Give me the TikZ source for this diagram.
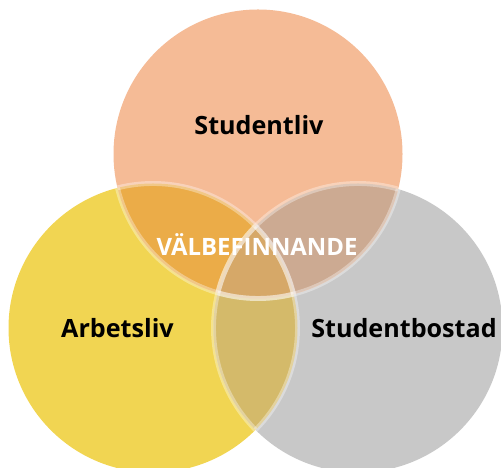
\documentclass[tikz,border=0pt]{standalone}
\usepackage{fontspec}
\setmainfont{Open Sans}
\usepackage{tikz}
\definecolor{salmonliv}{RGB}{245,187,150}
\definecolor{yellowliv}{RGB}{241,213,82}
\definecolor{grayliv}{RGB}{200,200,200}
\definecolor{lapTL}{RGB}{235,172,72}
\definecolor{lapTR}{RGB}{204,170,146}
\definecolor{lapLR}{RGB}{212,186,106}
\definecolor{lapmid}{RGB}{214,168,104}

\begin{document}
\begin{tikzpicture}[label/.style={font=\bfseries\fontsize{14.3}{16}\selectfont, text=black},
		rim/.style={white, opacity=0.35, line width=2.8pt}]
		\useasboundingbox (0,0) rectangle (10.02,9.36);
		\coordinate (top) at (5.16,6.28);
		\coordinate (left) at (3.06,2.80);
		\coordinate (right) at (7.16,2.80);
		\def\rad{2.89}
		% circles
		\fill[yellowliv] (left) circle (\rad);
		\fill[grayliv] (right) circle (\rad);
		\fill[salmonliv] (top) circle (\rad);
		% overlaps
		\begin{scope}
			\clip (left) circle (\rad);
			\fill[lapLR] (right) circle (\rad);
		\end{scope}
		\begin{scope}
			\clip (top) circle (\rad);
			\fill[lapTL] (left) circle (\rad);
			\fill[lapTR] (right) circle (\rad);
			\clip (left) circle (\rad);
			\fill[lapmid] (right) circle (\rad);
		\end{scope}
		% rims, only where circles overlap
		\foreach \c/\o in {top/left, top/right, left/top, left/right, right/top, right/left}{
			\begin{scope}
				\clip (\o) circle (\rad);
				\draw [rim] (\c) circle (\rad);
			\end{scope}
		}
		% labels:
		\node [label] (studentliv) at (5.18,6.86) {Studentliv};
		\node [label] (arbetsliv) at (2.35,2.80) {Arbetsliv};
		\node [label] (bostad) at (8.08,2.80) {Studentbostad};
		\node [label, text=white, font=\bfseries\fontsize{13.6}{15}\selectfont] (wellbeing) at (5.14,4.46) {VÄLBEFINNANDE};
	\end{tikzpicture}
\end{document}
